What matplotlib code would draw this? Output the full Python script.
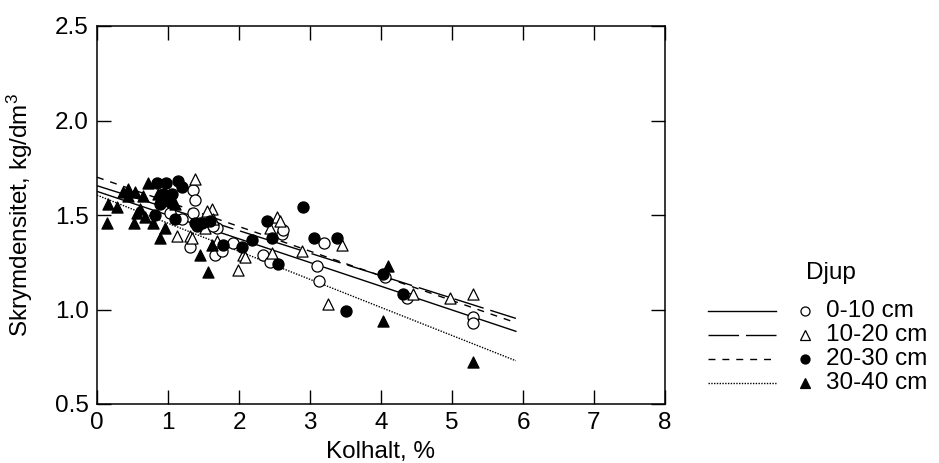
import numpy as np
import matplotlib
matplotlib.use('Agg')
import matplotlib.pyplot as plt
from matplotlib.lines import Line2D

plt.rcParams['font.family'] = ['Liberation Sans', 'DejaVu Sans']
plt.rcParams['mathtext.fontset'] = 'custom'
plt.rcParams['mathtext.rm'] = 'Liberation Sans'
plt.rcParams['mathtext.default'] = 'regular'

# 0-10 cm (open circles)
x_0_10 = [1.03, 1.35, 1.38, 1.35, 1.45, 1.31, 1.66, 1.69, 1.76, 1.92, 2.34, 2.44,
          2.60, 2.62, 3.20, 3.10, 3.13, 4.06, 4.37, 5.30, 5.30, 1.63, 1.20]
y_0_10 = [1.51, 1.63, 1.58, 1.51, 1.46, 1.33, 1.29, 1.43, 1.31, 1.35, 1.29, 1.25,
          1.40, 1.42, 1.35, 1.23, 1.15, 1.17, 1.06, 0.96, 0.93, 1.44, 1.48]
# 10-20 cm (open triangles)
x_10_20 = [1.38, 1.13, 1.31, 1.34, 1.52, 1.62, 1.63, 1.69, 1.99, 2.06, 2.08, 2.44,
           2.46, 2.54, 2.58, 2.89, 3.25, 3.45, 4.45, 4.97, 5.30, 1.55]
y_10_20 = [1.69, 1.39, 1.39, 1.38, 1.43, 1.53, 1.48, 1.36, 1.21, 1.29, 1.28, 1.43,
           1.30, 1.49, 1.47, 1.31, 1.03, 1.34, 1.08, 1.06, 1.08, 1.52]
# 20-30 cm (filled circles)
x_20_30 = [0.84, 0.97, 1.14, 1.20, 0.93, 1.06, 0.89, 1.03, 1.10, 0.82, 1.38, 1.48,
           1.59, 1.78, 2.04, 2.18, 2.39, 2.46, 2.55, 2.90, 3.05, 3.38, 4.03, 4.31,
           3.51, 1.41, 1.00]
y_20_30 = [1.67, 1.67, 1.68, 1.65, 1.61, 1.61, 1.56, 1.57, 1.48, 1.50, 1.46, 1.46,
           1.47, 1.34, 1.33, 1.37, 1.47, 1.38, 1.24, 1.54, 1.38, 1.38, 1.19, 1.08,
           0.99, 1.44, 1.59]
# 30-40 cm (filled triangles)
x_30_40 = [0.14, 0.28, 0.37, 0.44, 0.52, 0.54, 0.56, 0.61, 0.68, 0.72, 0.79, 0.86,
           0.89, 0.96, 1.45, 1.56, 1.62, 4.10, 4.03, 5.30, 0.44, 0.15, 1.10, 0.65]
y_30_40 = [1.46, 1.54, 1.62, 1.64, 1.46, 1.62, 1.51, 1.53, 1.49, 1.67, 1.46, 1.61,
           1.38, 1.43, 1.29, 1.20, 1.34, 1.23, 0.94, 0.72, 1.60, 1.56, 1.56, 1.60]

labels = ['0-10 cm', '10-20 cm', '20-30 cm', '30-40 cm']
# regression lines: intercept, slope
intercepts = [1.625, 1.655, 1.70, 1.605]
slopes = [-0.1255, -0.119, -0.1305, -0.1485]
fit_x = [0, 5.9]

xs = [x_0_10, x_10_20, x_20_30, x_30_40]
ys = [y_0_10, y_10_20, y_20_30, y_30_40]
markers = ['o', '^', 'o', '^']
faces = ['white', 'white', 'black', 'black']
styles = ['-', (0, (22, 5)), (0, (5, 5)), (0, (1, 1))]

fig = plt.figure(figsize=(9.39, 4.63), dpi=100)
ax = fig.add_axes([97/939, 1 - 404/463, (665-97)/939, (404-26)/463])

for i in range(4):
    fx = np.array(fit_x)
    ax.plot(fx, intercepts[i] + slopes[i]*fx, color='black', lw=1.0,
            linestyle=styles[i], zorder=2)
for i in range(4):
    ax.scatter(xs[i], ys[i], s=64, marker=markers[i], facecolor=faces[i],
               edgecolor='black', linewidths=0.9, zorder=3)

ax.set_xlim(0, 8)
ax.set_ylim(0.5, 2.5)
ax.set_xticks(range(0, 9))
ax.set_yticks([0.5, 1.0, 1.5, 2.0, 2.5])
ax.set_yticklabels(['0.5', '1.0', '1.5', '2.0', '2.5'])
ax.tick_params(direction='in', length=10, width=1, top=True, right=True,
               labelsize=17.5, pad=6)
for s in ax.spines.values():
    s.set_linewidth(1.1)
ax.set_xlabel('Kolhalt, %', fontsize=17.5, labelpad=5)
ax.set_ylabel('Skrymdensitet, kg/dm$^3$', fontsize=17.5, labelpad=14)

# legend drawn by hand: line, marker, text
fig.text(831/939, 1 - 273/463, 'Djup', fontsize=17.5, ha='center', va='center')
leg_y = [311, 335, 359, 383]
for i in range(4):
    fy = 1 - leg_y[i]/463
    fig.add_artist(Line2D([708/939, 776/939], [fy, fy], color='black', lw=1.0,
                          linestyle=styles[i], transform=fig.transFigure))
    fig.add_artist(Line2D([805/939], [fy], marker=markers[i], markersize=6.5,
                          markerfacecolor=faces[i], markeredgecolor='black',
                          markeredgewidth=0.9, linestyle='none',
                          transform=fig.transFigure))
    fig.text(826/939, fy, labels[i], fontsize=17.5, ha='left', va='center')

fig.savefig('out.png', dpi=100)
